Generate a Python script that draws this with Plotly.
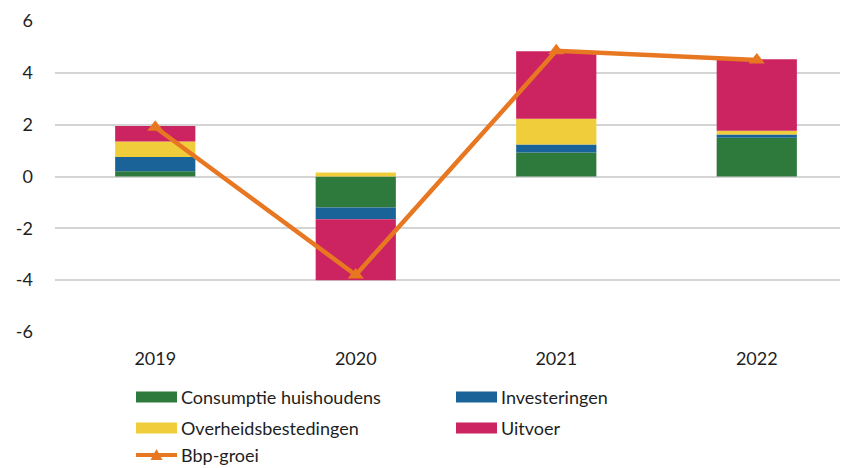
import plotly.graph_objects as go

years = ["2019", "2020", "2021", "2022"]
consumptie = [0.2, -1.2, 0.93, 1.5]
investeringen = [0.55, -0.45, 0.3, 0.12]
overheid = [0.6, 0.15, 1.0, 0.15]
uitvoer = [0.6, -2.35, 2.6, 2.75]
bbp_groei = [1.9, -3.8, 4.85, 4.5]
y_ticks = [-6, -4, -2, 0, 2, 4, 6]
y_ticktext = ["-6", "-4", "-2", "0", "2", "4", "6"]

names = ["Consumptie huishoudens", "Investeringen", "Overheidsbestedingen", "Uitvoer", "Bbp-groei"]
colors = ["#2e7a3d", "#1a6399", "#f0cd3a", "#cc2460", "#e87722"]

# page has an 8px body margin, so the figure is drawn 8px smaller and offset
OFF = 8
W, H = 848 - OFF, 468 - OFF
L, R, T, B = 55 - OFF, 848 - OFF, 21 - OFF, 332 - OFF
FONT = "Lato"
TXT = "#1e1e1e"

fig = go.Figure()
for name, vals, col in zip(names[:4], [consumptie, investeringen, overheid, uitvoer], colors[:4]):
    fig.add_trace(go.Bar(x=years, y=vals, name=name, marker=dict(color=col, line=dict(width=0)),
                         width=0.4, showlegend=False))
fig.add_trace(go.Scatter(x=years, y=bbp_groei, name=names[4], mode="lines+markers",
                         line=dict(color=colors[4], width=4.5),
                         marker=dict(symbol="triangle-up", size=14, color=colors[4]),
                         showlegend=False))

def px(x):
    return (x - OFF - L) / (R - L)

def py(y):
    return (B - (y - OFF)) / (B - T)

shapes = []
annotations = []
legend_pos = [(136, 397), (456, 397), (136, 428), (456, 428)]
for (x0, yc), name, col in zip(legend_pos, names[:4], colors[:4]):
    shapes.append(dict(type="rect", xref="paper", yref="paper", x0=px(x0), x1=px(x0 + 41),
                       y0=py(yc + 5.5), y1=py(yc - 5.5), fillcolor=col, line=dict(width=0)))
    annotations.append(dict(xref="paper", yref="paper", x=px(x0 + 43), y=py(yc), text=name,
                            showarrow=False, xanchor="left", yanchor="middle",
                            font=dict(family=FONT, size=18, color=TXT)))
# line legend item
x0, yc = 136, 455
shapes.append(dict(type="line", xref="paper", yref="paper", x0=px(x0), x1=px(x0 + 41),
                   y0=py(yc), y1=py(yc), line=dict(color=colors[4], width=4)))
cx = x0 + 20.5
shapes.append(dict(type="path", xref="paper", yref="paper",
                   path=f"M {px(cx-6)} {py(yc+5)} L {px(cx+6)} {py(yc+5)} L {px(cx)} {py(yc-6)} Z",
                   fillcolor=colors[4], line=dict(width=0)))
annotations.append(dict(xref="paper", yref="paper", x=px(x0 + 43), y=py(yc), text=names[4],
                        showarrow=False, xanchor="left", yanchor="middle",
                        font=dict(family=FONT, size=18, color=TXT)))

fig.update_layout(
    width=W, height=H,
    margin=dict(l=L, r=W - R, t=T, b=H - B, pad=0),
    paper_bgcolor="white", plot_bgcolor="white",
    barmode="relative", bargap=0.6,
    font=dict(family=FONT, size=18, color=TXT),
    shapes=shapes, annotations=annotations,
    xaxis=dict(range=[-0.5, 3.455], showgrid=False, showline=False, zeroline=False,
               ticks="", ticklabelstandoff=14, tickfont=dict(size=18)),
    yaxis=dict(range=[-6, 6], tickvals=y_ticks, ticktext=y_ticktext, showgrid=True,
               gridcolor="#d4d4d4", gridwidth=1.5,
               zeroline=False, showline=False, ticks="", ticklabelstandoff=21,
               tickfont=dict(size=18)),
)

fig.write_html("out.html")
